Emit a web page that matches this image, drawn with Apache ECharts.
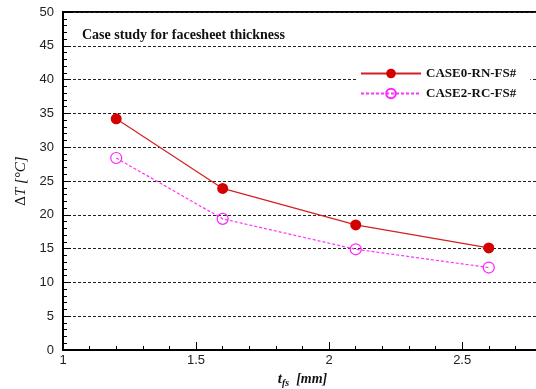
<!DOCTYPE html>
<html>
<head>
<meta charset="utf-8">
<script src="https://cdn.jsdelivr.net/npm/echarts@6/dist/echarts.min.js"></script>
<style>
html, body { margin: 0; padding: 0; background: #fff; }
#chart { width: 536px; height: 389px; }
</style>
</head>
<body>
<div id="chart"></div>
<script>
// thickness values (mm)
var thickness = [1.2, 1.6, 2.1, 2.6];
// temperature rise per case
var case0 = [34.2, 23.9, 18.5, 15.1];
var case2 = [28.4, 19.4, 14.9, 12.2];
var seriesNames = ['CASE0-RN-FS#', 'CASE2-RC-FS#'];

function pairs(xs, ys) {
  return xs.map(function (x, i) { return [x, ys[i]]; });
}

var chart = echarts.init(document.getElementById('chart'));
var option = {
  animation: false,
  backgroundColor: '#fff',
  title: {
    text: 'Case study for facesheet thickness',
    left: 77, top: 23,
    textStyle: { fontFamily: 'Liberation Serif', fontWeight: 'bold', fontSize: 14, color: '#111' }
  },
  legend: {
    orient: 'vertical',
    left: 356, top: 63,
    itemWidth: 60, itemHeight: 12, itemGap: 7,
    backgroundColor: '#fff',
    padding: [4, 14, 4, 4],
    textStyle: { fontFamily: 'Liberation Serif', fontWeight: 'bold', fontSize: 13, color: '#111' },
    data: seriesNames
  },
  grid: {
    left: 63, top: 12, width: 479, height: 338,
    outerBoundsMode: 'none',
    show: true, borderColor: '#000', borderWidth: 2, backgroundColor: 'transparent'
  },
  xAxis: {
    type: 'value', min: 1, max: 2.8, interval: 0.5,
    name: '{t|t}{s|fs}{u|  [mm]}',
    nameLocation: 'middle', nameGap: 20,
    nameTextStyle: {
      rich: {
        t: { fontFamily: 'Liberation Serif', fontStyle: 'italic', fontWeight: 'bold', fontSize: 15, color: '#111' },
        s: { fontFamily: 'Liberation Serif', fontStyle: 'italic', fontWeight: 'bold', fontSize: 10, color: '#111', padding: [8, 0, 0, 0] },
        u: { fontFamily: 'Liberation Serif', fontStyle: 'italic', fontWeight: 'bold', fontSize: 14, color: '#111' }
      }
    },
    axisLine: { lineStyle: { color: '#000', width: 2 } },
    axisTick: { inside: true, length: 8, lineStyle: { color: '#000' } },
    minorTick: { show: true, splitNumber: 5, length: 4, lineStyle: { color: '#000' } },
    axisLabel: { color: '#222', fontFamily: 'Liberation Sans', fontSize: 13, margin: 4, showMaxLabel: false },
    splitLine: { show: false }
  },
  yAxis: {
    type: 'value', min: 0, max: 50, interval: 5,
    name: '{d|Δ}{t|T}{u| [°C]}',
    nameLocation: 'middle', nameGap: 34, nameRotate: 90,
    nameTextStyle: {
      rich: {
        d: { fontFamily: 'Liberation Serif', fontSize: 15, color: '#111' },
        t: { fontFamily: 'Liberation Serif', fontStyle: 'italic', fontSize: 15, color: '#111' },
        u: { fontFamily: 'Liberation Serif', fontStyle: 'italic', fontSize: 15, color: '#111' }
      }
    },
    axisLine: { lineStyle: { color: '#000', width: 2 } },
    axisTick: { inside: true, length: 8, lineStyle: { color: '#000' } },
    minorTick: { show: true, splitNumber: 5, length: 4, lineStyle: { color: '#000' } },
    axisLabel: { color: '#222', fontFamily: 'Liberation Sans', fontSize: 13, margin: 9 },
    splitLine: { show: true, lineStyle: { color: '#222', type: [3, 2], width: 1 } }
  },
  series: [
    {
      name: seriesNames[0], type: 'line',
      data: pairs(thickness, case0),
      symbol: 'circle', symbolSize: 11,
      itemStyle: { color: '#d40000' },
      lineStyle: { color: '#d42020', width: 1.2 }
    },
    {
      name: seriesNames[1], type: 'line',
      data: pairs(thickness, case2),
      symbol: 'circle', symbolSize: 11,
      itemStyle: { color: 'rgba(255,255,255,0)', borderColor: '#ff22ff', borderWidth: 1.2 },
      lineStyle: { color: '#ff33ff', width: 1.2, type: [3, 2] }
    }
  ]
};
chart.setOption(option);
</script>
</body>
</html>
